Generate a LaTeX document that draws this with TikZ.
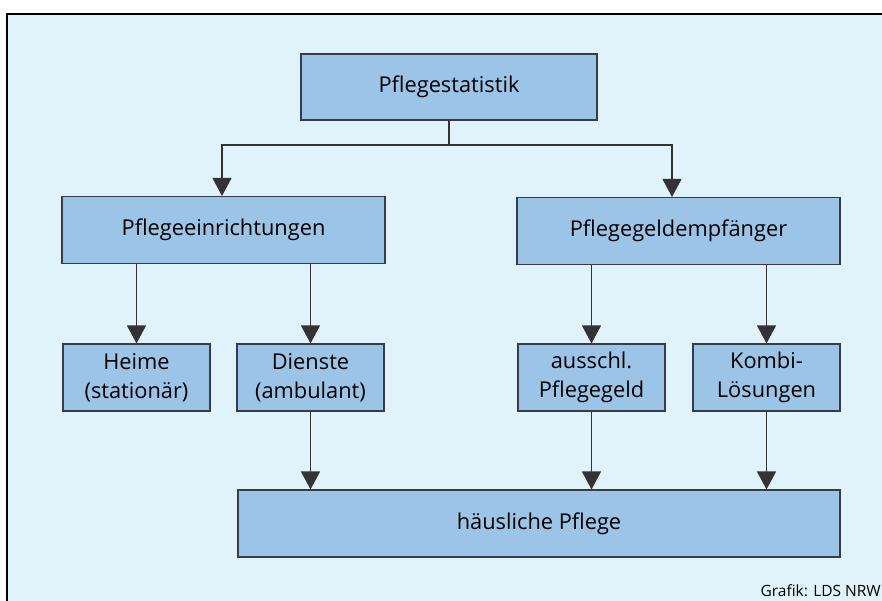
\documentclass[tikz,border=0pt]{standalone}
\usepackage{fontspec}
\setmainfont{Open Sans}
\usetikzlibrary{arrows.meta}

\begin{document}
\begin{tikzpicture}[x=1pt,y=-1pt,
    box/.style={draw=boxline, fill=boxfill, line width=1.1pt, inner sep=0pt,
      align=center, font=\fontsize{21.8}{29}\selectfont},
    pfeil/.style={draw=linegray, line width=1.1pt,
      -{Triangle[width=19pt,length=18pt]}}]
    % Farben
    \definecolor{bgblue}{RGB}{224,242,250}
    \definecolor{boxfill}{RGB}{155,196,230}
    \definecolor{boxline}{RGB}{55,60,70}
    \definecolor{linegray}{RGB}{50,50,55}

    % Hintergrund und Rahmen
    \useasboundingbox (0,0) rectangle (882,601);
    \clip (0,0) rectangle (882,601);
    \fill[white] (0,0) rectangle (882,601);
    \fill[bgblue] (7,14) rectangle (890,610);
    \draw[line width=2.5pt] (890,14) -- (7,14) -- (7,610);

    % obere Ebene
    \node[box, minimum width=296, minimum height=66] (stat) at (449,87) {Pflegestatistik};

    % zweite Ebene
    \node[box, minimum width=323, minimum height=67] (einr) at (223.5,230) {Pflegeeinrichtungen};
    \node[box, minimum width=323, minimum height=67] (geld) at (678.5,231) {Pflegegeldempfänger};

    % dritte Ebene
    \node[box, minimum width=147, minimum height=67] (heime) at (136.5,377.5) {Heime\\(stationär)};
    \node[box, minimum width=147, minimum height=67] (dienste) at (310.5,377.5) {Dienste\\(ambulant)};
    \node[box, minimum width=147, minimum height=67] (ausschl) at (591.5,377.5) {ausschl.\\Pflegegeld};
    \node[box, minimum width=147, minimum height=67] (kombi) at (766.5,377.5) {Kombi-\\Lösungen};

    % untere Ebene
    \node[box, minimum width=602, minimum height=67] (haus) at (539,523.5) {häusliche Pflege};

    % Verbindungen
    \coordinate (gabel) at (449,145);
    \draw[draw=linegray, line width=1.1pt] (stat.south) -- (gabel);
    \draw[pfeil] (gabel) -| ([xshift=-1.5pt]einr.north);
    \draw[pfeil] (gabel) -| ([xshift=-6.5pt]geld.north);

    \draw[pfeil] (einr.south -| heime.north) -- (heime.north);
    \draw[pfeil] (einr.south -| dienste.north) -- (dienste.north);
    \draw[pfeil] (geld.south -| ausschl.north) -- (ausschl.north);
    \draw[pfeil] (geld.south -| kombi.north) -- (kombi.north);

    \draw[pfeil] (dienste.south) -- (dienste.south |- haus.north);
    \draw[pfeil] (ausschl.south) -- (ausschl.south |- haus.north);
    \draw[pfeil] (kombi.south) -- (kombi.south |- haus.north);

    % Quelle
    \node[anchor=south east, inner sep=0pt, font=\fontsize{15.5}{18}\selectfont] (quelle) at (881,597) {Grafik: LDS NRW};
\end{tikzpicture}
\end{document}
